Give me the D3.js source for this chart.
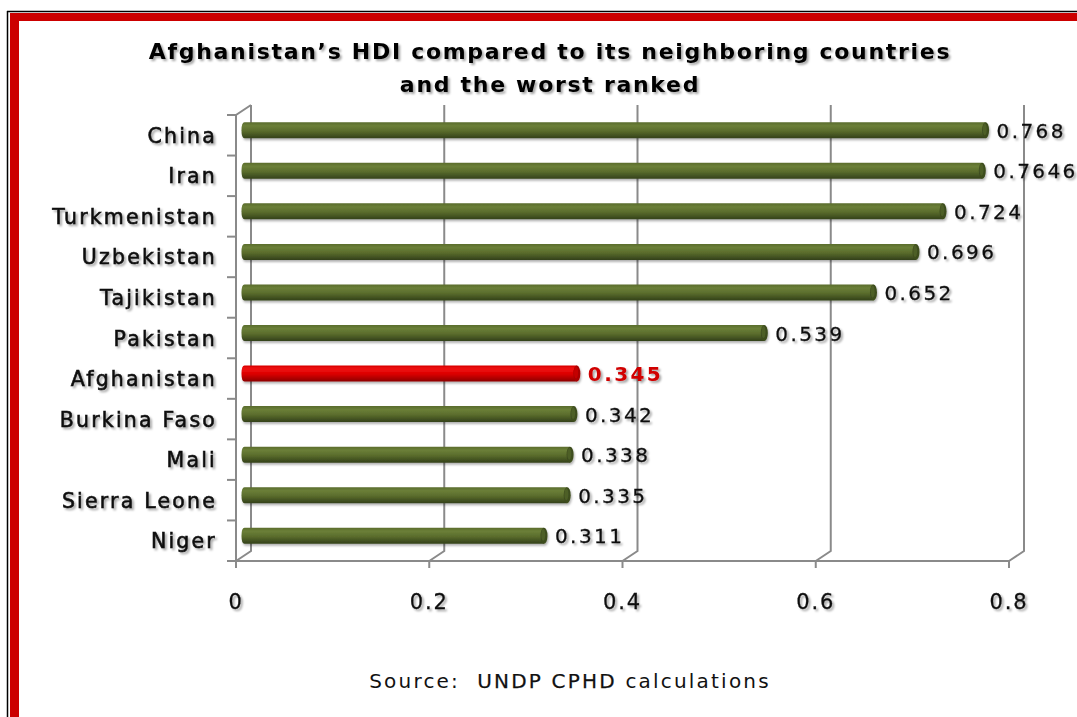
<!DOCTYPE html>
<html>
<head>
<meta charset="utf-8">
<script src="https://cdn.jsdelivr.net/npm/d3@7"></script>
<style>
  html, body { margin: 0; padding: 0; background: #fff; }
  svg { display: block; }
</style>
</head>
<body>
<svg id="chart" width="1077" height="717"></svg>
<script>
// HDI values, top to bottom
const countries = ["China", "Iran", "Turkmenistan", "Uzbekistan", "Tajikistan", "Pakistan",
                   "Afghanistan", "Burkina Faso", "Mali", "Sierra Leone", "Niger"];
const hdi = [0.768, 0.7646, 0.724, 0.696, 0.652, 0.539, 0.345, 0.342, 0.338, 0.335, 0.311];
const valueLabels = ["0.768", "0.7646", "0.724", "0.696", "0.652", "0.539", "0.345", "0.342", "0.338", "0.335", "0.311"];
const xTicks = [0, 0.2, 0.4, 0.6, 0.8];
const xTickLabels = ["0", "0.2", "0.4", "0.6", "0.8"];
const highlight = "Afghanistan";
const titleLines = ["Afghanistan\u2019s HDI compared to its neighboring countries", "and the worst ranked"];
const sourceParts = ["Source:  ", "UNDP CPHD", " calculations"];

const data = countries.map((c, i) => ({ country: c, value: hdi[i], label: valueLabels[i] }));

const svg = d3.select("#chart");
const W = 1077, H = 717;

// page frame: thin black rule and thick red band
svg.append("rect").attr("x", 0).attr("y", 0).attr("width", W).attr("height", H).attr("fill", "#fff");
svg.append("line").attr("x1", 7.5).attr("x2", 7.5).attr("y1", 11).attr("y2", H).attr("stroke", "#000").attr("stroke-width", 1.5);
svg.append("line").attr("x1", 7).attr("x2", W).attr("y1", 11.5).attr("y2", 11.5).attr("stroke", "#000").attr("stroke-width", 1.5);
svg.append("rect").attr("x", 10).attr("y", 13).attr("width", 9).attr("height", H - 13).attr("fill", "#cc0000");
svg.append("rect").attr("x", 10).attr("y", 13).attr("width", W - 10).attr("height", 8).attr("fill", "#cc0000");

const defs = svg.append("defs");
const shadow = defs.append("filter").attr("id", "txtShadow").attr("x", "-10%").attr("y", "-30%").attr("width", "130%").attr("height", "170%");
shadow.append("feDropShadow").attr("dx", 2).attr("dy", 2).attr("stdDeviation", 1.3)
  .attr("flood-color", "#000").attr("flood-opacity", 0.35);
const barShadow = defs.append("filter").attr("id", "barShadow").attr("x", "-5%").attr("y", "-50%").attr("width", "110%").attr("height", "220%");
barShadow.append("feDropShadow").attr("dx", 1).attr("dy", 2).attr("stdDeviation", 1.2)
  .attr("flood-color", "#000").attr("flood-opacity", 0.3);

function cylGradient(id, top, mid, bot) {
  const g = defs.append("linearGradient").attr("id", id).attr("x1", 0).attr("x2", 0).attr("y1", 0).attr("y2", 1);
  g.append("stop").attr("offset", "0%").attr("stop-color", mid);
  g.append("stop").attr("offset", "22%").attr("stop-color", top);
  g.append("stop").attr("offset", "55%").attr("stop-color", mid);
  g.append("stop").attr("offset", "100%").attr("stop-color", bot);
}
cylGradient("gGreen", "#6b7f38", "#5a6c2c", "#33411a");
cylGradient("gRed", "#f01010", "#d80000", "#8c0000");

// scales
const x = d3.scaleLinear().domain([0, 0.8]).range([236, 1009]);
const y = d3.scaleBand().domain(countries).range([115, 561]).padding(0);
const depthX = 15, depthY = -10;   // 3-D wall offset
const barH = 16;

const grid = svg.append("g").attr("stroke", "#8a8a8a").attr("stroke-width", 2).attr("fill", "none");
const yTop = y.range()[0], yBot = y.range()[1];

// back-wall gridlines with floor diagonals
xTicks.forEach(t => {
  const xf = x(t), xb = x(t) + depthX;
  grid.append("path").attr("d", `M${xb},${yTop + depthY}L${xb},${yBot + depthY}L${xf},${yBot}`);
});
// front left edge and its top diagonal
grid.append("path").attr("d", `M${x(0) + depthX},${yTop + depthY}L${x(0)},${yTop}L${x(0)},${yBot}`);
// front floor edge
grid.append("line").attr("x1", x(0)).attr("x2", x(0.8)).attr("y1", yBot).attr("y2", yBot);
// category ticks
countries.forEach(c => {
  grid.append("line").attr("x1", x(0) - 9).attr("x2", x(0)).attr("y1", y(c)).attr("y2", y(c));
});
grid.append("line").attr("x1", x(0) - 9).attr("x2", x(0)).attr("y1", yBot).attr("y2", yBot);
// value ticks
xTicks.forEach(t => {
  grid.append("line").attr("x1", x(t)).attr("x2", x(t)).attr("y1", yBot).attr("y2", yBot + 7);
});

// bars (cylinders drawn at mid depth)
const bars = svg.append("g");
data.forEach(d => {
  const isHi = d.country === highlight;
  const cy = y(d.country) + y.bandwidth() / 2 + depthY / 2;
  const x0 = x(0) + depthX / 2 - 2, x1 = x(d.value) + depthX / 2;
  const g = bars.append("g").attr("filter", "url(#barShadow)");
  g.append("path")
    .attr("d", `M${x1},${cy - barH / 2}L${x0 + 3},${cy - barH / 2}Q${x0},${cy - barH / 2} ${x0},${cy}Q${x0},${cy + barH / 2} ${x0 + 3},${cy + barH / 2}L${x1},${cy + barH / 2}Z`)
    .attr("fill", isHi ? "url(#gRed)" : "url(#gGreen)");
  g.append("ellipse").attr("cx", x1).attr("cy", cy).attr("rx", 3.5).attr("ry", barH / 2)
    .attr("fill", isHi ? "#a80000" : "#3e4d1f");
  g.append("ellipse").attr("cx", x1 - 0.8).attr("cy", cy - 1).attr("rx", 2).attr("ry", barH / 2 - 2)
    .attr("fill", isHi ? "#c40000" : "#4d5e27");

  svg.append("text")
    .attr("x", x1 + 11).attr("y", cy + 7.5)
    .attr("font-family", "DejaVu Sans, Verdana, sans-serif")
    .attr("font-size", 20)
    .attr("letter-spacing", 2.4)
    .attr("font-weight", isHi ? "bold" : "normal")
    .attr("fill", isHi ? "#d00000" : "#111")
    .attr("stroke", isHi ? "none" : "#111").attr("stroke-width", 0.3)
    .attr("filter", "url(#txtShadow)")
    .text(d.label);
});

// category labels
svg.append("g").selectAll("text").data(countries).join("text")
  .attr("x", 217).attr("y", c => y(c) + y.bandwidth() / 2 + 7.5)
  .attr("text-anchor", "end")
  .attr("font-family", "DejaVu Sans, Verdana, sans-serif")
  .attr("font-size", 20.5)
  .attr("letter-spacing", 2.2)
  .attr("fill", "#111")
  .attr("stroke", "#111").attr("stroke-width", 0.6)
  .attr("filter", "url(#txtShadow)")
  .text(c => c);

// value axis labels
svg.append("g").selectAll("text").data(xTicks).join("text")
  .attr("x", t => x(t)).attr("y", 609)
  .attr("text-anchor", "middle")
  .attr("font-family", "DejaVu Sans, sans-serif")
  .attr("font-size", 21)
  .attr("letter-spacing", 1.8)
  .attr("fill", "#111")
  .attr("stroke", "#111").attr("stroke-width", 0.3)
  .attr("filter", "url(#txtShadow)")
  .text((t, i) => xTickLabels[i]);

// title
svg.append("g").selectAll("text").data(titleLines).join("text")
  .attr("x", 550).attr("y", (d, i) => 59 + i * 33)
  .attr("text-anchor", "middle")
  .attr("font-family", "DejaVu Sans, Verdana, sans-serif")
  .attr("font-weight", "bold")
  .attr("font-size", 22)
  .attr("letter-spacing", 1.7)
  .attr("fill", "#000")
  .attr("filter", "url(#txtShadow)")
  .text(d => d);

// source note
const src = svg.append("text")
  .attr("x", 570).attr("y", 688)
  .attr("text-anchor", "middle")
  .attr("font-family", "DejaVu Sans, sans-serif")
  .attr("font-size", 20)
  .attr("letter-spacing", 2.2)
  .attr("fill", "#111")
  .style("white-space", "pre");
src.selectAll("tspan").data(sourceParts).join("tspan")
  .attr("stroke", (d, i) => i === 1 ? "#111" : "none")
  .attr("stroke-width", 0.25)
  .text(d => d);
</script>
</body>
</html>
